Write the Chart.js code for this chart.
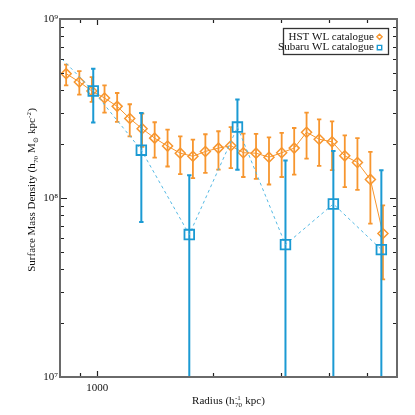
<!DOCTYPE html>
<html><head><meta charset="utf-8">
<script src="https://cdn.jsdelivr.net/npm/chart.js@4.4.0/dist/chart.umd.min.js"></script>
<style>html,body{margin:0;padding:0;background:#fff;}#wrap{width:415px;height:415px;position:relative;}</style>
</head><body><div id="wrap"><canvas id="c" width="415" height="415"></canvas></div>
<script>
// ---- data ----
const hstRadius = [830, 898, 968, 1044, 1126, 1214, 1307, 1409, 1522, 1642, 1771, 1908, 2063, 2222, 2394, 2583, 2791, 3011, 3245, 3494, 3767, 4070, 4391, 4736, 5117, 5516];
const hstSigma  = [4.95e8, 4.45e8, 3.96e8, 3.62e8, 3.25e8, 2.78e8, 2.44e8, 2.16e8, 1.95e8, 1.78e8, 1.71e8, 1.82e8, 1.90e8, 1.96e8, 1.79e8, 1.78e8, 1.69e8, 1.79e8, 1.90e8, 2.33e8, 2.13e8, 2.06e8, 1.72e8, 1.58e8, 1.27e8, 6.33e7];
const hstUpper  = [5.56e8, 5.12e8, 4.74e8, 4.26e8, 3.86e8, 3.34e8, 2.96e8, 2.65e8, 2.41e8, 2.21e8, 2.12e8, 2.27e8, 2.36e8, 2.49e8, 2.29e8, 2.28e8, 2.18e8, 2.31e8, 2.46e8, 3.00e8, 2.75e8, 2.68e8, 2.24e8, 2.16e8, 1.81e8, 9.10e7];
const hstLower  = [4.26e8, 3.78e8, 3.44e8, 3.00e8, 2.66e8, 2.21e8, 1.93e8, 1.68e8, 1.50e8, 1.36e8, 1.29e8, 1.38e8, 1.44e8, 1.47e8, 1.31e8, 1.28e8, 1.19e8, 1.31e8, 1.35e8, 1.66e8, 1.51e8, 1.43e8, 1.15e8, 1.11e8, 7.19e7, 3.51e7];

const subaruRadius = [732, 976, 1301, 1733, 2311, 3080, 4101, 5464];
const subaruSigma  = [7.46e8, 3.96e8, 1.85e8, 6.25e7, 2.49e8, 5.49e7, 9.26e7, 5.15e7];
const subaruUpper  = [null, 5.28e8, 2.98e8, 1.34e8, 3.55e8, 1.62e8, 1.83e8, 1.43e8];
const subaruLower  = [null, 2.64e8, 7.34e7, 0, 1.44e8, 0, 0, 0];   // 0 = extends below the axis

const seriesLabels = ['HST WL catalogue', 'Subaru WL catalogue'];

const xMin = 800, xMax = 6000, yMin = 1e7, yMax = 1e9;
const xMajorTicks = [1000];
const xMinorTicks = [900, 2000, 3000, 4000, 5000];
const yMajorTicks = [1e7, 1e8, 1e9];
const yMinorTicks = [2e7, 3e7, 4e7, 5e7, 6e7, 7e7, 8e7, 9e7, 2e8, 3e8, 4e8, 5e8, 6e8, 7e8, 8e8, 9e8];

// ---- styles ----
const SERIF = '"Liberation Serif", "Times New Roman", serif';
const ORANGE = '#f7962f';
const BLUE = '#1b9ad3';
const BLUE_LINE = '#55b9e4';
const FRAME = '#6a6a6a';
const TICK = '#222';

const SUP = {'0':'⁰','1':'¹','2':'²','3':'³','4':'⁴','5':'⁵','6':'⁶','7':'⁷','8':'⁸','9':'⁹','-':'⁻'};
function supStr(n){ return String(n).split('').map(c => SUP[c] || c).join(''); }

function fontN(size){ return size + 'px ' + SERIF; }
function richWidth(ctx, segs, size, small){
  let w = 0;
  segs.forEach(s => {
    if (s.k === 'n') { ctx.font = fontN(size); w += ctx.measureText(s.t).width; }
    else if (s.k === 'subsup') { ctx.font = fontN(small); w += Math.max(ctx.measureText(s.t).width, ctx.measureText(s.t2).width) + 1; }
    else { ctx.font = fontN(small); w += ctx.measureText(s.t).width + 0.5; }
  });
  return w;
}
function drawRich(ctx, segs, x, y, size, small){
  let cx = x;
  ctx.textAlign = 'left'; ctx.textBaseline = 'alphabetic';
  segs.forEach(s => {
    if (s.k === 'n') { ctx.font = fontN(size); ctx.fillText(s.t, cx, y); cx += ctx.measureText(s.t).width; }
    else if (s.k === 'sub') { ctx.font = fontN(small); ctx.fillText(s.t, cx + 0.3, y + 2.5); cx += ctx.measureText(s.t).width + 0.5; }
    else if (s.k === 'sup') { ctx.font = fontN(small); ctx.fillText(s.t, cx + 0.3, y - 4.5); cx += ctx.measureText(s.t).width + 0.5; }
    else if (s.k === 'subsup') {
      ctx.font = fontN(small);
      ctx.fillText(s.t, cx + 0.3, y + 2.5);
      ctx.fillText(s.t2, cx + 0.3, y - 4.5);
      cx += Math.max(ctx.measureText(s.t).width, ctx.measureText(s.t2).width) + 1;
    }
  });
}

const yTitle = [
  {k:'n', t:'Surface Mass Density (h'}, {k:'sub', t:'70'}, {k:'n', t:' M'}, {k:'sub', t:'⊙'},
  {k:'n', t:' kpc'}, {k:'sup', t:'-2'}, {k:'n', t:')'}
];
const xTitle = [
  {k:'n', t:'Radius (h'}, {k:'subsup', t:'70', t2:'-1'}, {k:'n', t:' kpc)'}
];

const decorPlugin = {
  id: 'decor',
  beforeDatasetDraw(chart, args) {
    const ds = chart.data.datasets[args.index];
    const meta = args.meta;
    const ys = chart.scales.y;
    const ca = chart.chartArea;
    const ctx = chart.ctx;
    ctx.save();
    ctx.beginPath();
    ctx.rect(ca.left, ca.top, ca.right - ca.left, ca.bottom - ca.top);
    ctx.clip();
    ctx.strokeStyle = ds.errColor;
    ctx.lineWidth = ds.errWidth;
    meta.data.forEach((pt, i) => {
      const hi = ds.errHigh[i], lo = ds.errLow[i];
      if (hi == null || lo == null) return;
      const px = pt.x;
      const yh = ys.getPixelForValue(hi);
      const yl = lo > 0 ? ys.getPixelForValue(lo) : ca.bottom + 5;
      ctx.beginPath();
      ctx.moveTo(px, yh); ctx.lineTo(px, yl);
      ctx.moveTo(px - 2.2, yh); ctx.lineTo(px + 2.2, yh);
      if (lo > 0) { ctx.moveTo(px - 2.2, yl); ctx.lineTo(px + 2.2, yl); }
      ctx.stroke();
    });
    ctx.restore();
  },
  afterDraw(chart) {
    const ctx = chart.ctx;
    const ca = chart.chartArea;
    const xs = chart.scales.x, ys = chart.scales.y;
    ctx.save();
    // ticks (inward, all four sides)
    ctx.strokeStyle = TICK; ctx.lineWidth = 1.2;
    ctx.beginPath();
    const xt = (v, len) => {
      const p = Math.round(xs.getPixelForValue(v)) + 0.5;
      ctx.moveTo(p, ca.bottom); ctx.lineTo(p, ca.bottom - len);
      ctx.moveTo(p, ca.top); ctx.lineTo(p, ca.top + len);
    };
    const yt = (v, len) => {
      const p = Math.round(ys.getPixelForValue(v)) + 0.5;
      ctx.moveTo(ca.left, p); ctx.lineTo(ca.left + len, p);
      ctx.moveTo(ca.right, p); ctx.lineTo(ca.right - len, p);
    };
    xMajorTicks.forEach(v => xt(v, 6));
    xMinorTicks.forEach(v => xt(v, 4));
    yMajorTicks.forEach(v => yt(v, 7));
    yMinorTicks.forEach(v => yt(v, 4));
    ctx.stroke();
    // frame
    ctx.strokeStyle = FRAME; ctx.lineWidth = 2;
    ctx.strokeRect(ca.left, ca.top, ca.right - ca.left, ca.bottom - ca.top);

    // legend
    const lx0 = 283, ly0 = 28, lx1 = 388, ly1 = 54;
    ctx.fillStyle = '#fff';
    ctx.fillRect(lx0, ly0, lx1 - lx0, ly1 - ly0);
    ctx.strokeStyle = '#333'; ctx.lineWidth = 1.3;
    ctx.strokeRect(lx0 + 0.5, ly0 + 0.5, lx1 - lx0, ly1 - ly0);
    ctx.fillStyle = '#111';
    ctx.font = fontN(11);
    ctx.textAlign = 'right'; ctx.textBaseline = 'middle';
    const rows = [36.8, 47.6];
    chart.data.datasets.forEach((ds, i) => {
      ctx.fillStyle = '#111';
      ctx.fillText(ds.label, 374, rows[i]);
      const mx = 379.5, my = rows[i];
      ctx.strokeStyle = ds.pointBorderColor; ctx.lineWidth = 1.4;
      ctx.beginPath();
      if (ds.pointStyle === 'rectRot') {
        ctx.moveTo(mx - 2.6, my); ctx.lineTo(mx, my - 2.6); ctx.lineTo(mx + 2.6, my); ctx.lineTo(mx, my + 2.6); ctx.closePath();
      } else {
        ctx.rect(mx - 2.2, my - 2.2, 4.4, 4.4);
      }
      ctx.stroke();
    });

    // axis titles
    ctx.fillStyle = '#111';
    const wx = richWidth(ctx, xTitle, 11, 7);
    drawRich(ctx, xTitle, 228.5 - wx / 2, 404, 11, 7);
    ctx.save();
    ctx.translate(31, 190);
    ctx.rotate(-Math.PI / 2);
    const wy = richWidth(ctx, yTitle, 11, 7);
    drawRich(ctx, yTitle, -wy / 2, 4, 11, 7);
    ctx.restore();
    ctx.restore();
  }
};

new Chart(document.getElementById('c').getContext('2d'), {
  type: 'line',
  data: {
    datasets: [
      {
        label: seriesLabels[0],
        data: hstRadius.map((r, i) => ({x: r, y: hstSigma[i]})),
        errHigh: hstUpper, errLow: hstLower, errColor: ORANGE, errWidth: 1.8,
        borderColor: ORANGE, borderWidth: 1, fill: false, tension: 0,
        pointStyle: 'rectRot', pointRadius: 5, pointBorderWidth: 1.5,
        pointBorderColor: ORANGE, pointBackgroundColor: 'rgba(255,255,255,0)',
        order: 2
      },
      {
        label: seriesLabels[1],
        data: subaruRadius.map((r, i) => ({x: r, y: subaruSigma[i]})),
        errHigh: subaruUpper, errLow: subaruLower, errColor: BLUE, errWidth: 2,
        borderColor: BLUE_LINE, borderWidth: 1, borderDash: [3, 3], fill: false, tension: 0,
        pointStyle: 'rect', pointRadius: 6.8, pointBorderWidth: 1.8,
        pointBorderColor: BLUE, pointBackgroundColor: 'rgba(255,255,255,0)',
        order: 1
      }
    ]
  },
  options: {
    responsive: false, animation: false, devicePixelRatio: 1,
    layout: {padding: {top: 19, right: 18, left: 0, bottom: 0}},
    plugins: {legend: {display: false}, tooltip: {enabled: false}},
    scales: {
      x: {
        type: 'logarithmic', min: xMin, max: xMax,
        grid: {display: false, drawTicks: false}, border: {display: false},
        afterBuildTicks: s => { s.ticks = xMajorTicks.map(v => ({value: v})); },
        afterFit: s => { s.height = 38; },
        ticks: {font: {family: SERIF, size: 11}, color: '#111', padding: 5, maxRotation: 0, autoSkip: false,
                callback: v => String(v)}
      },
      y: {
        type: 'logarithmic', min: yMin, max: yMax,
        grid: {display: false, drawTicks: false}, border: {display: false},
        afterBuildTicks: s => { s.ticks = yMajorTicks.map(v => ({value: v})); },
        afterFit: s => { s.width = 60; },
        ticks: {font: {family: SERIF, size: 11}, color: '#111', padding: 2, autoSkip: false,
                callback: v => '10' + supStr(Math.round(Math.log10(v)))}
      }
    }
  },
  plugins: [decorPlugin]
});
</script>
</body></html>
